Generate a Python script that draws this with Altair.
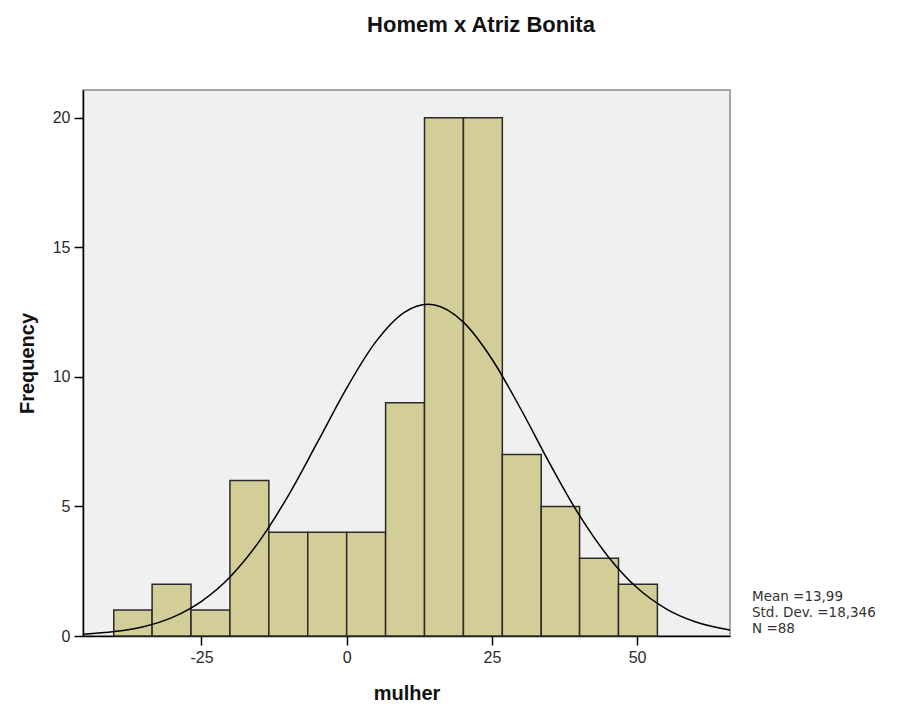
import altair as alt
import pandas as pd

# Histogram bins (edges) and frequencies
bin_left = [-40.1, -33.5, -26.8, -20.1, -13.4, -6.7, 0.0, 6.7, 13.4, 20.1, 26.8, 33.5, 40.1, 46.8]
bin_right = [-33.5, -26.8, -20.1, -13.4, -6.7, 0.0, 6.7, 13.4, 20.1, 26.8, 33.5, 40.1, 46.8, 53.5]
freq = [1, 2, 1, 6, 4, 4, 4, 9, 20, 20, 7, 5, 3, 2]

# Normal curve points
curve_x = [-45.4, -40, -35, -30, -25, -20, -15, -10, -5, 0, 5, 10, 14, 15, 20, 25, 30, 35, 40, 45, 50, 55, 60, 66]
curve_y = [0.07, 0.17, 0.36, 0.72, 1.34, 2.30, 3.67, 5.44, 7.49, 9.57, 11.35, 12.50, 12.80, 12.78, 12.13, 10.69, 8.75, 6.64, 4.68, 3.07, 1.86, 1.05, 0.55, 0.23]

x_ticks = [-25, 0, 25, 50]
y_ticks = [0, 5, 10, 15, 20]
legend_lines = ["Mean =13,99", "Std. Dev. =18,346", "N =88"]
title_text = "Homem x Atriz Bonita"

bars_df = pd.DataFrame({"left": bin_left, "right": bin_right, "freq": freq})
curve_df = pd.DataFrame({"x": curve_x, "y": curve_y})

W, H = 647, 546
X_DOM = [-45.4, 66.0]
Y_DOM = [0, 21.07]

xscale = alt.Scale(domain=X_DOM, nice=False, zero=False)
yscale = alt.Scale(domain=Y_DOM, nice=False, zero=False)

x_axis = alt.Axis(
    values=x_ticks, title="mulher", grid=False,
    labelExpr="datum.value < 0 ? '-' + abs(datum.value) : '' + datum.value",
    domainColor="black", domainWidth=1.5,
    tickColor="black", tickWidth=1.5, tickSize=9,
    labelFont="Liberation Sans", labelFontSize=16, labelColor="#2a2a2a", labelPadding=4,
    titleFont="Liberation Sans", titleFontSize=20, titleFontWeight="bold", titleColor="#111111",
    titleX=W / 2, titleY=57, titleAlign="center", titleBaseline="middle",
)
y_axis = alt.Axis(
    values=y_ticks, title="Frequency", grid=False,
    domainColor="black", domainWidth=1.5,
    tickColor="black", tickWidth=1.5, tickSize=9,
    labelFont="Liberation Sans", labelFontSize=16, labelColor="#2a2a2a", labelPadding=4,
    titleFont="Liberation Sans", titleFontSize=20, titleFontWeight="bold", titleColor="#111111",
    titleX=-56, titleY=H / 2, titleAngle=270, titleAlign="center", titleBaseline="middle",
)

bars = alt.Chart(bars_df).mark_rect(
    fill="#D3CE97", stroke="#2a2a2a", strokeWidth=1.5
).encode(
    x=alt.X("left:Q", scale=xscale, axis=x_axis),
    x2="right:Q",
    y=alt.Y("freq:Q", scale=yscale, axis=y_axis),
    y2=alt.datum(0),
)

curve = alt.Chart(curve_df).mark_line(
    color="black", strokeWidth=1.5, interpolate="monotone", clip=True
).encode(
    x=alt.X("x:Q", scale=xscale),
    y=alt.Y("y:Q", scale=yscale),
)

legend = alt.Chart(pd.DataFrame({"a": [0]})).mark_text(
    text=legend_lines, align="left", baseline="middle", lineHeight=16,
    font="DejaVu Sans", fontSize=13.5, color="#333333",
).encode(x=alt.value(669), y=alt.value(507))

title = alt.Chart(pd.DataFrame({"a": [0]})).mark_text(
    text=title_text, align="center", baseline="middle",
    font="Liberation Sans", fontSize=22, fontWeight="bold", color="#111111",
).encode(x=alt.value(398), y=alt.value(-65))

chart = alt.layer(bars, curve, legend, title).properties(
    width=W, height=H,
    autosize=alt.AutoSizeParams(type="none"),
    padding={"left": 75, "top": 82, "right": 165, "bottom": 67},
    background="white",
).configure_view(
    fill="#F0F0F0", stroke="#8a8a8a", strokeWidth=1.5
)

chart.save("out.html", embed_options={"renderer": "svg", "actions": False})
